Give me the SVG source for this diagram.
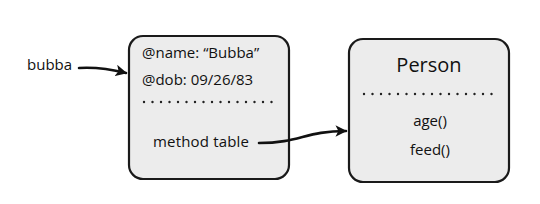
<svg xmlns="http://www.w3.org/2000/svg" width="540" height="204" viewBox="0 0 540 204">
<style>
.box{fill:#ececec;stroke:#1a1a1a;stroke-width:2.2}
.t{font-family:"Open Sans","DejaVu Sans",sans-serif;font-size:15px;fill:#111}
.dots{stroke:#222;stroke-width:2.4;stroke-linecap:round;stroke-dasharray:0 8.5;fill:none}
.c{fill:none;stroke:#111;stroke-width:2.6;stroke-linecap:round}
</style>
<defs>
<marker id="ah" viewBox="0 0 10 10" refX="9" refY="5" markerWidth="4.5" markerHeight="4.5" orient="auto" markerUnits="strokeWidth">
<path d="M0,0 L10,5 L0,10 L2.5,5 Z" fill="#111"/>
</marker>
</defs>
<rect width="540" height="204" fill="#fff"/>
<g id="bubba">
<text class="t" x="27" y="70">bubba</text>
</g>
<g id="instance">
<rect class="box" x="129" y="36" width="160" height="143" rx="14"/>
<text class="t" x="142" y="58">@name: “Bubba”</text>
<text class="t" x="142" y="85">@dob: 09/26/83</text>
<line class="dots" x1="144" y1="102" x2="280" y2="102"/>
<text class="t" x="153" y="147" textLength="96">method table</text>
</g>
<g id="person">
<rect class="box" x="349" y="39" width="160" height="143" rx="14"/>
<text class="t" x="429" y="72" text-anchor="middle" style="font-size:20px">Person</text>
<line class="dots" x1="364" y1="94" x2="500" y2="94"/>
<text class="t" x="430" y="126" text-anchor="middle">age()</text>
<text class="t" x="430" y="155" text-anchor="middle">feed()</text>
</g>
<g id="connectors">
<path class="c" d="M79,68 C95,67 110,69 126,73" marker-end="url(#ah)"/>
<path class="c" d="M259,143 C300,143 305,131 346,131" marker-end="url(#ah)"/>
</g>
</svg>
